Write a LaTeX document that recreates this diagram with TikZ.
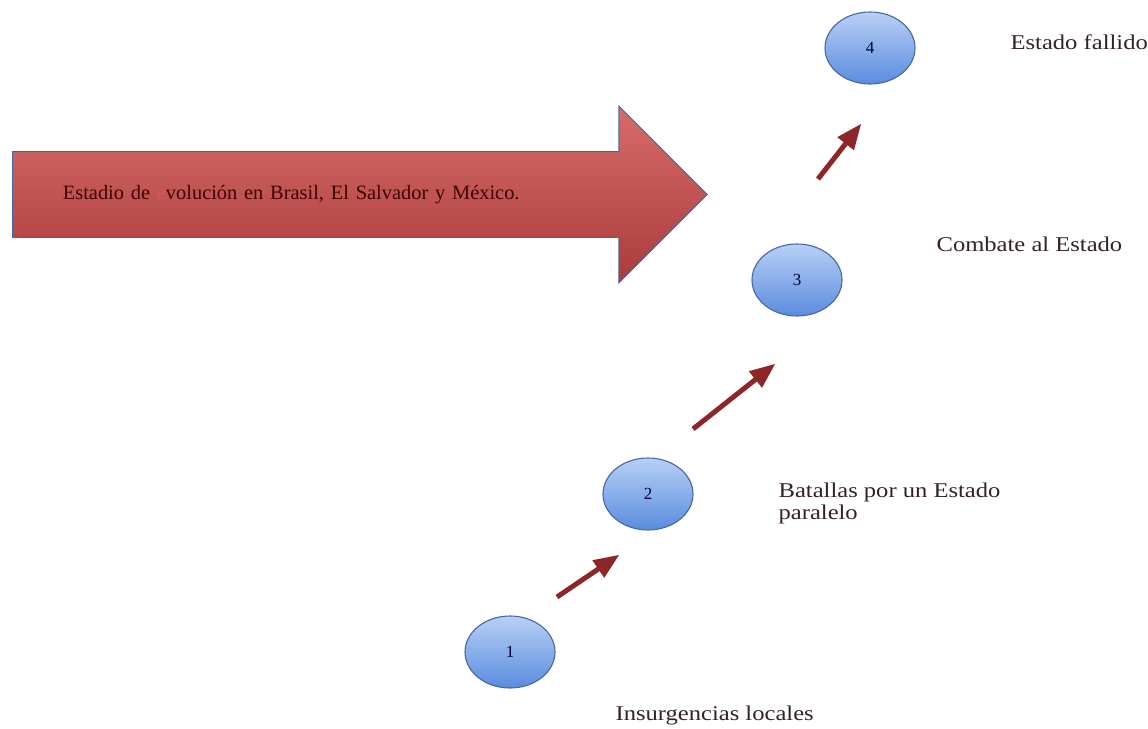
\documentclass[tikz,border=0pt]{standalone}
\usepackage{fontspec}
\setmainfont{Liberation Serif}
\newfontfamily\anchafont[FakeStretch=1.17]{Liberation Serif}
\usepackage{tikz}
\usetikzlibrary{arrows,shapes}
\definecolor{rojoclaro}{RGB}{214,108,106}
\definecolor{rojooscuro}{RGB}{170,60,58}
\definecolor{rojoletra}{RGB}{222,84,84}
\definecolor{bordeazul}{RGB}{70,104,162}
\definecolor{azulclaro}{RGB}{184,208,246}
\definecolor{azulfuerte}{RGB}{90,140,222}
\definecolor{granate}{RGB}{140,38,40}
\definecolor{textoetapa}{RGB}{52,32,42}

\begin{document}
\begin{tikzpicture}[x=1pt,y=-1pt,->,>=triangle 45,semithick]
 \tikzstyle{etapa}=[ellipse,draw=bordeazul,line width=1.1pt,top color=azulclaro,bottom color=azulfuerte,minimum width=90pt,minimum height=72pt,text=black!80!blue,font=\fontsize{17}{17}\selectfont]
 \tikzstyle{etiqueta}=[anchor=west,text=textoetapa,align=left,font=\anchafont\fontsize{21}{22}\selectfont]
 \tikzstyle{paso}=[granate,line width=5pt]

   \useasboundingbox (0,0) rectangle (1148,728);

   % flecha grande
   \node[single arrow,anchor=tail,draw=bordeazul,line width=0.9pt,top color=rojoclaro,bottom color=rojooscuro,
         single arrow tip angle=90,single arrow head extend=45.5pt,
         text width=551pt,align=left,inner xsep=50pt,inner ysep=32.5pt,text height=15pt,text depth=5pt,
         text=black!75!red,font=\fontsize{20.4}{21}\selectfont] (flecha) at (12,194.5)
         {Estadio de {\color{rojoletra}e}volución en Brasil, El Salvador y México.};

   % etapas
   \node[etapa] (e1) at (510,652) {1};
   \node[etapa] (e2) at (648,494) {2};
   \node[etapa] (e3) at (797,280) {3};
   \node[etapa] (e4) at (870,48) {4};

   \node[etiqueta] (t1) at (612,715) {Insurgencias locales};
   \node[etiqueta] (t2) at (775,503) {Batallas por un Estado\\paralelo};
   \node[etiqueta] (t3) at (933,244) {Combate al Estado};
   \node[etiqueta] (t4) at (1007,42) {Estado fallido};

   % flechas entre etapas
   \coordinate (p1a) at (557,597);
   \coordinate (p1b) at (619,555);
   \coordinate (p2a) at (693,429);
   \coordinate (p2b) at (775,364);
   \coordinate (p3a) at (818,179);
   \coordinate (p3b) at (861,124);

   \draw[paso] (p1a) -- (p1b);
   \draw[paso] (p2a) -- (p2b);
   \draw[paso] (p3a) -- (p3b);

\end{tikzpicture}
\end{document}
